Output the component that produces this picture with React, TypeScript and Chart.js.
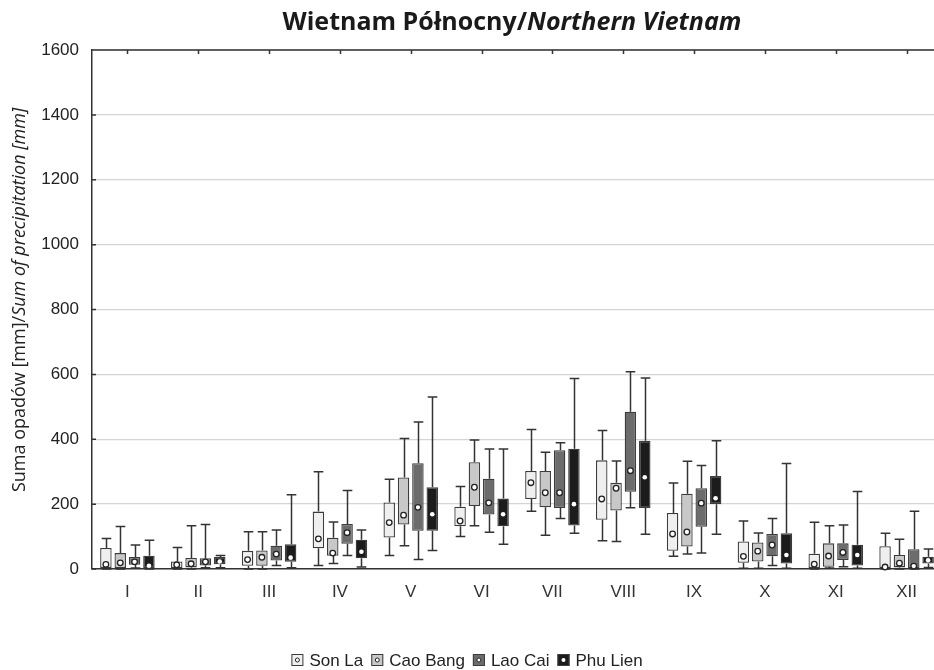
import React, { useEffect, useRef } from 'react';
import { Chart, registerables } from 'chart.js';

Chart.register(...registerables);

const months = ['I', 'II', 'III', 'IV', 'V', 'VI', 'VII', 'VIII', 'IX', 'X', 'XI', 'XII'];
const seriesNames = ['Son La', 'Cao Bang', 'Lao Cai', 'Phu Lien'];
const yTickValues = [0, 200, 400, 600, 800, 1000, 1200, 1400, 1600];

// each month: [min, q1, median, q3, max]
const sonLa = [
  [0, 3, 14, 65, 94], [0, 3, 13, 23, 66], [0, 10, 29, 56, 115], [11, 64, 93, 177, 300],
  [42, 97, 143, 205, 277], [100, 132, 148, 192, 254], [178, 216, 266, 302, 430], [87, 152, 216, 335, 427],
  [39, 56, 108, 173, 265], [2, 19, 39, 85, 148], [0, 3, 15, 47, 144], [0, 3, 6, 70, 110],
];
const caoBang = [
  [0, 3, 19, 49, 131], [0, 5, 16, 34, 133], [0, 10, 36, 57, 115], [17, 41, 49, 96, 145],
  [72, 137, 166, 282, 402], [133, 194, 252, 329, 398], [104, 190, 235, 302, 360], [85, 180, 249, 266, 333],
  [46, 69, 114, 232, 332], [2, 23, 55, 82, 111], [3, 7, 40, 79, 133], [0, 5, 18, 43, 92],
];
const laoCai = [
  [3, 13, 22, 37, 74], [4, 11, 22, 33, 137], [11, 26, 46, 72, 120], [42, 78, 112, 139, 242],
  [29, 118, 190, 326, 453], [113, 168, 204, 278, 370], [156, 188, 235, 366, 389], [189, 238, 303, 485, 608],
  [49, 130, 203, 249, 319], [11, 39, 74, 108, 156], [7, 28, 51, 79, 136], [0, 3, 9, 61, 178],
];
const phuLien = [
  [0, 3, 10, 41, 89], [4, 15, 23, 37, 42], [4, 22, 35, 76, 229], [6, 33, 53, 90, 120],
  [57, 118, 169, 252, 530], [76, 132, 169, 217, 370], [110, 134, 200, 371, 587], [107, 188, 283, 395, 589],
  [107, 200, 218, 287, 395], [2, 17, 43, 110, 325], [2, 11, 43, 75, 239], [5, 17, 27, 38, 62],
];

const allSeries = [sonLa, caoBang, laoCai, phuLien];
const fills = ['#efefef', '#c8c8c8', '#6c6c6c', '#1c1c1c'];
const boxBorder = '#3c3c3c';
const lineColor = '#333333';
const VIEW_W = 934;
const VIEW_H = 670;
const CANVAS_W = 950;

const boxPlugin = {
  id: 'boxWhiskers',
  beforeDatasetsDraw(chart: any) {
    const ctx = chart.ctx;
    const y = chart.scales.y;
    ctx.save();
    ctx.strokeStyle = lineColor;
    ctx.lineWidth = 1.5;
    allSeries.forEach((series, i) => {
      const meta = chart.getDatasetMeta(i);
      meta.data.forEach((el: any, j: number) => {
        const [mn, q1, , q3, mx] = series[j];
        const x = Math.round(el.x) + 0.5;
        const cap = el.width * 0.42;
        const yMin = y.getPixelForValue(mn);
        const yMax = y.getPixelForValue(mx);
        const yQ1 = y.getPixelForValue(q1);
        const yQ3 = y.getPixelForValue(q3);
        ctx.beginPath();
        ctx.moveTo(x, yQ3);
        ctx.lineTo(x, yMax);
        ctx.moveTo(x - cap, yMax);
        ctx.lineTo(x + cap, yMax);
        ctx.moveTo(x, yQ1);
        ctx.lineTo(x, yMin);
        ctx.moveTo(x - cap, yMin);
        ctx.lineTo(x + cap, yMin);
        ctx.stroke();
      });
    });
    ctx.restore();
  },
  afterDatasetsDraw(chart: any) {
    const ctx = chart.ctx;
    const y = chart.scales.y;
    ctx.save();
    allSeries.forEach((series, i) => {
      const meta = chart.getDatasetMeta(i);
      meta.data.forEach((el: any, j: number) => {
        const med = series[j][2];
        const px = el.x;
        const py = y.getPixelForValue(med);
        ctx.beginPath();
        if (i === 3) {
          ctx.arc(px, py, 2.3, 0, Math.PI * 2);
          ctx.fillStyle = '#ffffff';
          ctx.fill();
        } else {
          ctx.arc(px, py, 2.8, 0, Math.PI * 2);
          ctx.fillStyle = '#ffffff';
          ctx.fill();
          ctx.lineWidth = 1.3;
          ctx.strokeStyle = '#222222';
          ctx.stroke();
        }
      });
    });
    ctx.restore();
  },
  afterDraw(chart: any) {
    const ctx = chart.ctx;
    const area = chart.chartArea;
    const xs = chart.scales.x;
    const ys = chart.scales.y;
    ctx.save();
    // top frame line with ticks
    ctx.strokeStyle = lineColor;
    ctx.lineWidth = 1.5;
    ctx.beginPath();
    ctx.moveTo(area.left, area.top);
    ctx.lineTo(area.right, area.top);
    months.forEach((_, k) => {
      const px = Math.round(xs.getPixelForValue(k)) + 0.5;
      ctx.moveTo(px, area.top);
      ctx.lineTo(px, area.top + 4);
    });
    yTickValues.forEach((v) => {
      const py = ys.getPixelForValue(v);
      ctx.moveTo(area.left, py);
      ctx.lineTo(area.left + 4, py);
    });
    ctx.stroke();

    // title
    const t1 = 'Wietnam Północny/';
    const t2 = 'Northern Vietnam';
    const f1 = 'bold 25px "Open Sans"';
    const f2 = 'italic bold 25px "Open Sans"';
    ctx.font = f1;
    const w1 = ctx.measureText(t1).width;
    ctx.font = f2;
    const w2 = ctx.measureText(t2).width;
    const tx = 512 - (w1 + w2) / 2;
    ctx.fillStyle = '#1a1a1a';
    ctx.textBaseline = 'middle';
    ctx.textAlign = 'left';
    ctx.font = f1;
    ctx.fillText(t1, tx, 23);
    ctx.font = f2;
    ctx.fillText(t2, tx + w1, 23);

    // y axis title
    const a1 = 'Suma opadów [mm]/';
    const a2 = 'Sum of precipitation [mm]';
    const g1 = '18px "Open Sans"';
    const g2 = 'italic 18px "Open Sans"';
    ctx.font = g1;
    const v1 = ctx.measureText(a1).width;
    ctx.font = g2;
    const v2 = ctx.measureText(a2).width;
    ctx.translate(20, 300);
    ctx.rotate(-Math.PI / 2);
    ctx.fillStyle = '#222222';
    const sx = -(v1 + v2) / 2;
    ctx.font = g1;
    ctx.fillText(a1, sx, 0);
    ctx.font = g2;
    ctx.fillText(a2, sx + v1, 0);
    ctx.setTransform(1, 0, 0, 1, 0, 0);

    // legend
    const lf = '17px "Liberation Sans"';
    ctx.font = lf;
    const box = 12;
    const gapIcon = 6;
    const gapItem = 8;
    const widths = seriesNames.map((n) => ctx.measureText(n).width);
    const total = widths.reduce((s, w) => s + box + gapIcon + w, 0) + gapItem * (seriesNames.length - 1);
    let lx = VIEW_W / 2 - total / 2;
    const ly = 660;
    seriesNames.forEach((n, i) => {
      ctx.fillStyle = fills[i];
      ctx.fillRect(lx, ly - box / 2, box, box);
      ctx.strokeStyle = boxBorder;
      ctx.lineWidth = 1;
      ctx.strokeRect(lx + 0.5, ly - box / 2 + 0.5, box - 1, box - 1);
      ctx.beginPath();
      ctx.arc(lx + box / 2, ly, 2, 0, Math.PI * 2);
      ctx.fillStyle = '#ffffff';
      ctx.fill();
      if (i < 3) {
        ctx.strokeStyle = '#222';
        ctx.stroke();
      }
      ctx.fillStyle = '#222222';
      ctx.textBaseline = 'middle';
      ctx.fillText(n, lx + box + gapIcon, ly + 1);
      lx += box + gapIcon + widths[i] + gapItem;
    });
    ctx.restore();
  },
};

export default function App() {
  const ref = useRef<HTMLCanvasElement | null>(null);
  useEffect(() => {
    if (!ref.current) return;
    const chart = new Chart(ref.current, {
      type: 'bar',
      data: {
        labels: months,
        datasets: allSeries.map((s, i) => ({
          label: seriesNames[i],
          data: s.map((d) => [d[1], d[3]]),
          backgroundColor: fills[i],
          borderColor: boxBorder,
          borderWidth: 1.3,
          borderSkipped: false,
          categoryPercentage: 0.81,
          barPercentage: 0.8,
        })),
      },
      options: {
        responsive: false,
        animation: false,
        devicePixelRatio: 1,
        layout: { padding: { top: 50, left: 0, right: 8, bottom: 0 } },
        plugins: {
          legend: { display: false },
          tooltip: { enabled: false },
        },
        scales: {
          x: {
            type: 'category',
            offset: true,
            grid: { display: false },
            border: { display: true, color: lineColor, width: 1.5 },
            ticks: {
              color: '#333333',
              padding: 5,
              font: { family: '"Liberation Sans"', size: 17 },
              maxRotation: 0,
            },
            afterFit: (s: any) => {
              s.height = 101;
            },
          },
          y: {
            min: 0,
            max: 1600,
            ticks: {
              stepSize: 200,
              color: '#222222',
              padding: 13,
              font: { family: '"Liberation Sans"', size: 17 },
              callback: (v: any) => String(v),
            },
            grid: { color: '#d4d4d4', lineWidth: 1.3, drawTicks: false, tickLength: 0 },
            border: { display: true, color: lineColor, width: 1.5 },
            afterFit: (s: any) => {
              s.width = 92;
            },
          },
        },
      },
      plugins: [boxPlugin],
    });
    return () => chart.destroy();
  }, []);
  return (
    <div
      style={{
        position: 'fixed',
        left: 0,
        top: 0,
        width: VIEW_W,
        height: VIEW_H,
        overflow: 'hidden',
        background: '#ffffff',
      }}
    >
      <canvas ref={ref} width={CANVAS_W} height={VIEW_H} style={{ display: 'block' }} />
    </div>
  );
}
